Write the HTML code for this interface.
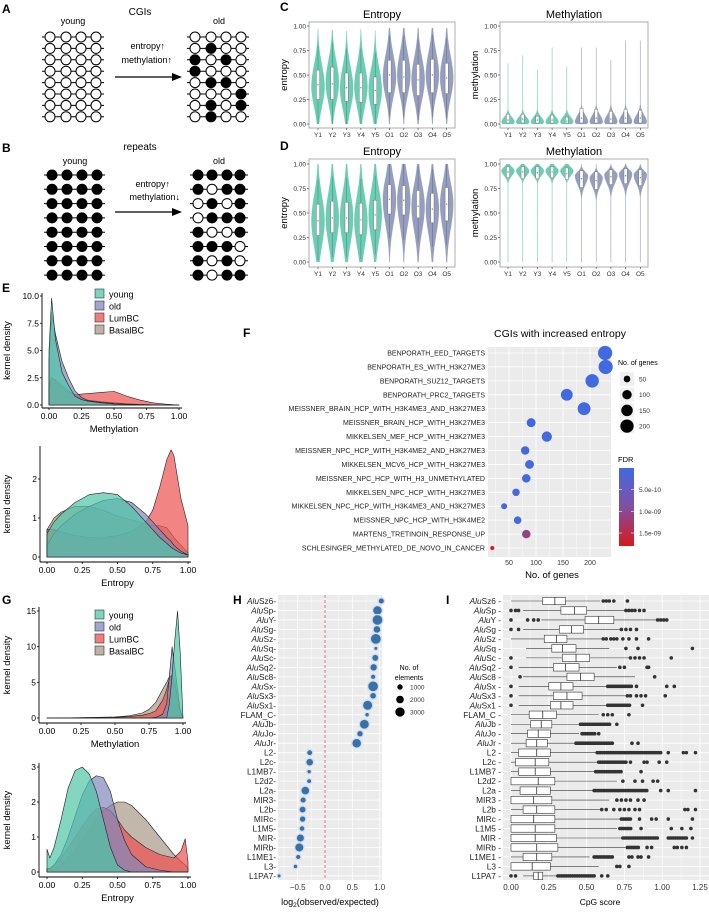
<!DOCTYPE html>
<html><head><meta charset="utf-8"><style>
html,body{margin:0;padding:0;background:#fff}
svg{display:block;font-family:"Liberation Sans",Arial,sans-serif}
</style></head><body>
<svg id="fig" width="709" height="912" viewBox="0 0 709 912" xmlns="http://www.w3.org/2000/svg"></svg>
<script>
// ---------------- DATA ----------------
const violinCats = ["Y1","Y2","Y3","Y4","Y5","O1","O2","O3","O4","O5"];
// C entropy
const cEntMode = [0.38,0.42,0.36,0.38,0.35,0.48,0.50,0.45,0.50,0.47];
const cEntMax  = [0.97,0.96,0.95,0.97,0.95,0.98,0.98,0.98,0.98,0.98];
const cEntQ1   = [0.25,0.25,0.23,0.22,0.20,0.32,0.32,0.29,0.32,0.31];
const cEntMed  = [0.40,0.41,0.37,0.37,0.34,0.50,0.48,0.45,0.50,0.47];
const cEntQ3   = [0.55,0.58,0.52,0.52,0.48,0.65,0.65,0.61,0.66,0.62];
// C methylation
const cMetMode = [0.02,0.02,0.02,0.02,0.02,0.02,0.02,0.02,0.02,0.02];
const cMetMax  = [0.62,0.70,0.55,0.78,0.58,0.78,0.78,0.65,0.85,0.85];
const cMetQ1   = [0.01,0.01,0.01,0.01,0.01,0.01,0.01,0.01,0.01,0.01];
const cMetMed  = [0.04,0.05,0.04,0.04,0.03,0.06,0.06,0.05,0.06,0.06];
const cMetQ3   = [0.10,0.10,0.08,0.09,0.07,0.16,0.15,0.13,0.15,0.14];
// D entropy
const dEntMode = [0.42,0.45,0.45,0.42,0.48,0.64,0.63,0.57,0.54,0.59];
const dEntMax  = [1,1,1,1,1,1,1,1,1,1];
const dEntQ1   = [0.27,0.30,0.30,0.28,0.33,0.49,0.48,0.45,0.40,0.42];
const dEntMed  = [0.42,0.45,0.45,0.43,0.48,0.64,0.63,0.57,0.54,0.59];
const dEntQ3   = [0.59,0.62,0.61,0.60,0.63,0.79,0.78,0.73,0.70,0.76];
// D methylation
const dMetMode = [0.93,0.93,0.93,0.93,0.93,0.88,0.86,0.89,0.90,0.89];
const dMetMax  = [1,1,1,1,1,1,1,1,1,1];
const dMetQ1   = [0.86,0.85,0.85,0.86,0.84,0.76,0.74,0.79,0.80,0.78];
const dMetMed  = [0.92,0.92,0.91,0.92,0.90,0.85,0.83,0.87,0.88,0.86];
const dMetQ3   = [0.97,0.97,0.97,0.97,0.96,0.93,0.92,0.94,0.95,0.94];

// density groups
const groups = ["young","old","LumBC","BasalBC"];
const eMetX = [0,0.02,0.05,0.1,0.15,0.2,0.25,0.3,0.4,0.5,0.6,0.7,0.8,0.9,1.0];
const eMetYoung = [5,9.8,6,3,1.8,0.8,0.5,0.35,0.2,0.1,0.05,0.02,0.01,0,0];
const eMetOld   = [4,8.5,6.5,4,2.5,1.3,0.7,0.4,0.25,0.15,0.08,0.04,0.02,0.01,0];
const eMetLum   = [1.5,2.5,2.2,1.6,1.2,0.95,1.0,1.05,1.15,1.25,0.8,0.45,0.2,0.08,0];
const eMetBasal = [2,2.5,2.3,1.8,1.3,0.9,0.6,0.45,0.3,0.2,0.12,0.06,0.03,0.01,0];
const eEntX = [0,0.05,0.1,0.2,0.3,0.4,0.5,0.6,0.7,0.75,0.8,0.85,0.88,0.9,0.95,1];
const eEntYoung = [0.6,0.9,1.1,1.4,1.6,1.65,1.6,1.3,0.9,0.7,0.5,0.35,0.25,0.2,0.1,0.05];
const eEntOld   = [0.3,0.6,0.8,1.1,1.3,1.45,1.5,1.4,1.1,0.9,0.7,0.5,0.4,0.3,0.15,0.05];
const eEntLum   = [0.7,0.7,0.65,0.55,0.5,0.5,0.55,0.65,0.9,1.2,1.8,2.5,2.75,2.6,1.5,0.8];
const eEntBasal = [0.7,1.0,1.15,1.3,1.3,1.2,1.05,0.95,0.85,0.8,0.8,0.75,0.6,0.5,0.3,0.1];
const gMetX = [0,0.25,0.5,0.6,0.7,0.75,0.8,0.85,0.88,0.9,0.92,0.94,0.96,0.98,1];
const gMetYoung = [0,0,0,0,0,0,0,0,0,2,6,11,15,9,0];
const gMetOld   = [0,0,0,0,0,0,0.1,0.5,2,6,10,7,4,1,0];
const gMetLum   = [0,0.05,0.1,0.2,0.4,0.6,1,2.5,4,5.5,6,5,3,1,0];
const gMetBasal = [0,0.05,0.15,0.3,0.7,1.2,2.2,4,5,5.8,6,4.5,2.5,1,0];
const gEntX = [0,0.02,0.05,0.1,0.15,0.2,0.25,0.3,0.35,0.4,0.45,0.5,0.55,0.6,0.7,0.8,0.9,0.95,0.98,1];
const gEntYoung = [0.65,0.4,0.7,1.5,2.4,2.9,3.0,2.8,2.3,1.5,0.7,0.2,0.05,0,0,0,0,0,0,0];
const gEntOld   = [0.1,0.1,0.2,0.5,1.0,1.6,2.2,2.6,2.75,2.7,2.3,1.5,0.9,0.5,0.15,0.05,0,0,0,0];
const gEntLum   = [0.1,0.1,0.2,0.4,0.7,1.0,1.3,1.6,1.8,1.85,1.75,1.5,1.2,1.0,0.7,0.5,0.4,0.6,0.95,0.3];
const gEntBasal = [0.05,0.05,0.1,0.2,0.4,0.6,0.9,1.2,1.5,1.75,1.9,2.0,2.0,1.9,1.5,1.0,0.5,0.3,0.2,0.1];

// F
const fTerms = ["BENPORATH_EED_TARGETS","BENPORATH_ES_WITH_H3K27ME3","BENPORATH_SUZ12_TARGETS","BENPORATH_PRC2_TARGETS","MEISSNER_BRAIN_HCP_WITH_H3K4ME3_AND_H3K27ME3","MEISSNER_BRAIN_HCP_WITH_H3K27ME3","MIKKELSEN_MEF_HCP_WITH_H3K27ME3","MEISSNER_NPC_HCP_WITH_H3K4ME2_AND_H3K27ME3","MIKKELSEN_MCV6_HCP_WITH_H3K27ME3","MEISSNER_NPC_HCP_WITH_H3_UNMETHYLATED","MIKKELSEN_NPC_HCP_WITH_H3K27ME3","MIKKELSEN_NPC_HCP_WITH_H3K4ME3_AND_H3K27ME3","MEISSNER_NPC_HCP_WITH_H3K4ME2","MARTENS_TRETINOIN_RESPONSE_UP","SCHLESINGER_METHYLATED_DE_NOVO_IN_CANCER"];
const fGenes = [228,229,204,157,189,91,120,80,88,82,63,41,66,82,19];
const fFdr = [1e-12,1e-12,1e-12,1e-12,1e-12,2e-11,1e-11,3e-11,3e-11,3e-11,5e-11,8e-11,5e-11,1.1e-9,1.8e-9];
const fXTicks = [50,100,150,200];
const fSizeLegend = [50,100,150,200];
const fFdrTicks = [5e-10,1e-9,1.5e-9];
const fFdrTickLabels = ["5.0e-10","1.0e-09","1.5e-09"];

// H / I
const repNames = ["AluSz6","AluSp","AluY","AluSg","AluSz","AluSq","AluSc","AluSq2","AluSc8","AluSx","AluSx3","AluSx1","FLAM_C","AluJb","AluJo","AluJr","L2","L2c","L1MB7","L2d2","L2a","MIR3","L2b","MIRc","L1M5","MIR","MIRb","L1ME1","L3","L1PA7"];
const hLogOE = [1.03,0.96,0.96,0.95,0.93,0.93,0.92,0.89,0.88,0.88,0.88,0.78,0.77,0.72,0.64,0.58,-0.28,-0.28,-0.29,-0.29,-0.36,-0.40,-0.41,-0.41,-0.42,-0.45,-0.47,-0.49,-0.54,-0.84];
const hCount = [900,2500,3200,1500,3300,300,1200,1400,600,3200,1100,2800,400,2700,1000,2500,800,1500,400,500,2000,900,1200,1000,700,1700,2200,600,400,300];
const hXTicks = [-0.5,0,0.5,1.0];
const hXTickLabels = ["\u22120.5","0.0","0.5","1.0"];
const hSizeLegend = [1000,2000,3000];
const iQ1  = [0.21,0.33,0.49,0.32,0.22,0.27,0.34,0.28,0.37,0.25,0.28,0.26,0.12,0.13,0.11,0.10,0.05,0.03,0.05,0,0.06,0,0.08,0,0,0,0,0.08,0,0.15];
const iMed = [0.29,0.42,0.58,0.40,0.30,0.34,0.43,0.36,0.46,0.33,0.37,0.33,0.21,0.20,0.18,0.17,0.17,0.16,0.16,0.18,0.17,0.15,0.17,0.15,0.16,0.16,0.17,0.17,0.14,0.18];
const iQ3  = [0.36,0.50,0.68,0.48,0.37,0.43,0.52,0.45,0.55,0.41,0.47,0.41,0.30,0.27,0.26,0.24,0.26,0.25,0.26,0.29,0.26,0.27,0.29,0.29,0.29,0.30,0.31,0.27,0.26,0.21];
const iLo  = [0,0.08,0.2,0.08,0,0.1,0.1,0.05,0.08,0.05,0.05,0.05,0,0,0,0,0,0,0,0,0,0,0,0,0,0,0,0,0,0.08];
const iHi  = [0.59,0.75,0.96,0.72,0.60,0.65,0.78,0.70,0.82,0.63,0.76,0.63,0.58,0.45,0.45,0.42,0.56,0.57,0.55,0.70,0.54,0.65,0.60,0.72,0.70,0.73,0.76,0.52,0.58,0.30];
const iOut = [[0.61,0.63,0.65,0.68,0.77],[0,0.03,0.05,0.76,0.78,0.80,0.82,0.85,0.88],[0,0.11,0.15,0.18,0.97,0.99,1.01,1.03],[0,0.05,0.73,0.76,0.79,0.83],[0.61,0.63,0.66,0.68,0.70,0.74,0.78,0.83,0.91],[0.76,0.84,1.2],[0,0.79,0.82,0.85,0.88,1.06],[0,0.72,0.75,0.9,0.91],[0.06,0.95],[0,0.83,1.03,1.08],[0,0.77,0.79,0.83,0.86,0.89,1.02],[0,0.87],[0.61,0.64,0.67,0.78],[0.7],[0.58],[0.8,0.84],[1.04,1.14,1.16,1.22],[0.79,0.88,0.9,0.98,1.03],[0.86],[0.74,0.82,0.87,0.94,0.97],[0.99,1.04,1.22],[0.7,0.73,0.76,0.79,0.84,0.88],[0.6,0.63,0.68,0.72,0.75,0.78,0.82,0.85,1.15,1.17,1.22],[0.85,0.93,0.96,1.04,1.2],[0.86,1.06,1.13,1.19],[1.2],[0.9,0.93,1.08,1.1,1.13,1.16],[0.78,0.8,0.84,0.86,0.91],[0.7,0.72,0.78],[0,0.03,0.6,0.64]];
const iOutRanges = [[],[],[],[],[],[],[],[],[],[[0.64,0.80]],[],[[0.64,0.79]],[],[[0.46,0.66]],[[0.47,0.56]],[[0.43,0.67]],[[0.57,1.0]],[[0.58,0.76]],[[0.56,0.73]],[],[[0.55,0.90]],[],[],[[0.73,0.80]],[[0.72,0.80]],[[0.74,0.97],[1.04,1.16]],[[0.77,0.85]],[[0.55,0.68]],[],[[0.31,0.56]]];
const iXTicks = [0,0.25,0.5,0.75,1.0,1.25];
const iXTickLabels = ["0.00","0.25","0.50","0.75","1.00","1.25"];

// ---------------- HELPERS ----------------
const NS = "http://www.w3.org/2000/svg";
const svg = document.getElementById("fig");
function mk(tag, attrs, parent){ const e=document.createElementNS(NS,tag); for(const k in attrs) e.setAttribute(k,attrs[k]); (parent||svg).appendChild(e); return e; }
function txt(x,y,s,size,anchor,parent,extra){ const t=mk("text",Object.assign({x:x,y:y,"font-size":size,"text-anchor":anchor||"start",fill:"#000"},extra||{}),parent); t.textContent=s; return t; }
const teal="#5ec7ab", slate="#8a94b6";

// ---------------- PANEL A & B ----------------
function label(s,x,y,name){ const t=txt(x,y,s,12,"start",svg,{"font-weight":"bold"});   }
label("A",2,13,"panel-a-label");
label("B",2,152,"panel-b-label");
label("C",280,11,"panel-c-label");
label("D",280,150,"panel-d-label");
label("E",2,292,"panel-e-label");
label("F",243,337,"panel-f-label");
label("G",2,604,"panel-g-label");
label("H",233,604,"panel-h-label");
label("I",446,604,"panel-i-label");

const cgiOld = ["0000","0100","1010","1000","0110","0001","0101","0100"];
const repOld = ["1111","1011","0101","0111","1001","1110","1010","1011"];
function schematic(gx, rows0, dy, colsX, pattern, gname){
  const g=mk("g",{});  
  for(let r=0;r<8;r++){
    const y=rows0+r*dy;
    mk("line",{x1:colsX[0]-8,x2:colsX[3]+8,y1:y,y2:y,stroke:"#000","stroke-width":1},g);
    for(let c=0;c<4;c++){
      const f=pattern[r][c]==="1";
      mk("circle",{cx:colsX[c],cy:y,r:5,fill:f?"#000":"#fff",stroke:"#000","stroke-width":1},g);
    }
  }
}
const youngCgi=[]; for(let r=0;r<8;r++) youngCgi.push("0000");
const youngRep=[]; for(let r=0;r<8;r++) youngRep.push("1111");
let t;
t=txt(140,15,"CGIs",10,"middle");  
t=txt(73,24,"young",9,"middle");  
t=txt(219,24,"old",9,"middle");  
schematic(0,37,11.4,[50,66,81,96],youngCgi,"cgi-young-schematic");
schematic(0,37,11.4,[195,211,226,241],cgiOld,"cgi-old-schematic");
t=txt(165,49,"entropy\u2191",9,"end");  
t=txt(172,63,"methylation\u2191",9,"end");  
function arrow(y,name){ const g=mk("g",{});  
  mk("line",{x1:115,x2:174,y1:y,y2:y,stroke:"#000","stroke-width":1.2},g);
  mk("polygon",{points:`182,${y} 172,${y-4} 172,${y+4}`,fill:"#000"},g); }
arrow(77,"arrow-a");
t=txt(140,150,"repeats",10,"middle");  
t=txt(75,164,"young",9,"middle");  
t=txt(219,164,"old",9,"middle");  
schematic(0,175,14.3,[52,67,82,97],youngRep,"repeat-young-schematic");
schematic(0,175,14.3,[198,212,227,240],repOld,"repeat-old-schematic");
t=txt(170,187,"entropy\u2191",9,"end");  
t=txt(180,200,"methylation\u2193",9,"end");  
arrow(212,"arrow-b");

// ---------------- VIOLINS ----------------
function violinPanel(o){
  const g=mk("g",{});  
  const yS=v=>o.y0+(o.y1-o.y0)*v;
  const xS=i=>o.cx0+i*o.step;
  mk("rect",{x:o.left,y:o.top,width:o.right-o.left,height:o.bottom-o.top,fill:"#fff",stroke:"#999","stroke-width":0.8},g);
  let tt=txt((o.left+o.right)/2,o.top-4,o.title,11,"middle",g);  
  tt=txt(o.left-22,(o.top+o.bottom)/2,o.ytitle,9.5,"middle",g,{transform:`rotate(-90 ${o.left-22} ${(o.top+o.bottom)/2})`});  
  [0,0.25,0.5,0.75,1].forEach((v,k)=>{
    mk("line",{x1:o.left-2,x2:o.left,y1:yS(v),y2:yS(v),stroke:"#333","stroke-width":0.6},g);
    const l=txt(o.left-3,yS(v)+2.5,["0.00","0.25","0.50","0.75","1.00"][k],6.5,"end",g,{fill:"#333"});  
  });
  violinCats.forEach((c,i)=>{
    const cx=xS(i), col=i<5?teal:slate;
    mk("line",{x1:cx,x2:cx,y1:o.bottom,y2:o.bottom+2,stroke:"#333","stroke-width":0.6},g);
    const l=txt(cx,o.bottom+9,c,6.5,"middle",g,{fill:"#333"});  
    const mode=o.mode[i], mx=o.max[i];
    const sdLo=i<5?o.sdLoY:o.sdLoO, sdHi=i<5?o.sdHiY:o.sdHiO;
    const L=[],R=[];
    for(let v=0; v<=mx+1e-9; v+=0.005){
      const sd=v<mode?sdLo:sdHi;
      const d=Math.exp(-0.5*Math.pow((v-mode)/sd,2));
      const w=Math.max(0.2,o.hw*d);
      L.push([cx-w,yS(v)]); R.unshift([cx+w,yS(v)]);
    }
    const pts=L.concat(R).map(p=>p[0].toFixed(2)+","+p[1].toFixed(2)).join(" ");
    const vp=mk("polygon",{points:pts,fill:col,stroke:col,"stroke-width":0.2,opacity:0.9},g);
     
    if(o.whisker) mk("line",{x1:cx,x2:cx,y1:yS(Math.max(0,o.q1[i]-0.25)),y2:yS(Math.min(mx,o.q3[i]+0.25)),stroke:i<5?"#2f8d78":"#5d6688","stroke-width":0.5},g);
    const bx=mk("rect",{x:cx-1.6,y:yS(o.q3[i]),width:3.2,height:Math.max(0.5,yS(o.q1[i])-yS(o.q3[i])),fill:"#fff",stroke:"#666","stroke-width":0.4},g);
     
    mk("circle",{cx:cx,cy:yS(o.med[i]),r:0.7,fill:"#888"},g);
  });
}
violinPanel({name:"c-entropy-violins",title:"Entropy",ytitle:"entropy",left:309,right:455,top:22,bottom:128,y0:124,y1:26,cx0:318,step:14.3,hw:6.6,whisker:true,mode:cEntMode,max:cEntMax,q1:cEntQ1,med:cEntMed,q3:cEntQ3,sdLoY:0.2,sdHiY:0.22,sdLoO:0.2,sdHiO:0.22});
violinPanel({name:"c-methylation-violins",title:"Methylation",ytitle:"methylation",left:500,right:648,top:22,bottom:128,y0:124,y1:26,cx0:508,step:14.7,hw:6.5,whisker:false,mode:cMetMode,max:cMetMax,q1:cMetQ1,med:cMetMed,q3:cMetQ3,sdLoY:0.03,sdHiY:0.05,sdLoO:0.03,sdHiO:0.07});
violinPanel({name:"d-entropy-violins",title:"Entropy",ytitle:"entropy",left:309,right:455,top:159,bottom:267,y0:262,y1:164,cx0:318,step:14.3,hw:6.6,whisker:true,mode:dEntMode,max:dEntMax,q1:dEntQ1,med:dEntMed,q3:dEntQ3,sdLoY:0.25,sdHiY:0.25,sdLoO:0.25,sdHiO:0.22});
violinPanel({name:"d-methylation-violins",title:"Methylation",ytitle:"methylation",left:500,right:648,top:159,bottom:267,y0:262,y1:164,cx0:508,step:14.7,hw:6.5,whisker:false,mode:dMetMode,max:dMetMax,q1:dMetQ1,med:dMetMed,q3:dMetQ3,sdLoY:0.05,sdHiY:0.04,sdLoO:0.09,sdHiO:0.04});

// ---------------- DENSITY PLOTS ----------------
const dCols={young:"#4fc6a6",old:"#8088bb",LumBC:"#ec5050",BasalBC:"#a89888"};
function densityPanel(o){
  const g=mk("g",{});  
  const xS=v=>o.x0+(o.x1-o.x0)*v, yS=v=>o.yb+(o.yt-o.yb)*v/o.yv;
  const series={young:o.young,old:o.old,LumBC:o.lum,BasalBC:o.basal};
  ["BasalBC","LumBC","old","young"].forEach(k=>{
    const ys=series[k];
    let d=`M${xS(o.xs[0])},${yS(0)}`;
    o.xs.forEach((x,i)=>{ d+=` L${xS(x).toFixed(2)},${yS(ys[i]).toFixed(2)}`; });
    d+=` L${xS(o.xs[o.xs.length-1])},${yS(0)} Z`;
    const p=mk("path",{d:d,fill:dCols[k],"fill-opacity":0.7,stroke:"#222","stroke-width":0.6,"stroke-linejoin":"round"},g);
     
  });
  mk("line",{x1:o.ax,x2:o.ax,y1:o.axTop,y2:o.axY,stroke:"#000","stroke-width":0.9},g);
  mk("line",{x1:o.ax,x2:xS(1)+3,y1:o.axY,y2:o.axY,stroke:"#000","stroke-width":0.9},g);
  o.yticks.forEach((v,k)=>{
    mk("line",{x1:o.ax-2,x2:o.ax,y1:yS(v),y2:yS(v),stroke:"#000","stroke-width":0.8},g);
    const l=txt(o.ax-3,yS(v)+3,o.ylabels[k],8.5,"end",g);  
  });
  [0,0.25,0.5,0.75,1].forEach((v,k)=>{
    mk("line",{x1:xS(v),x2:xS(v),y1:o.axY,y2:o.axY+2,stroke:"#000","stroke-width":0.8},g);
    const l=txt(xS(v),o.axY+11,["0.00","0.25","0.50","0.75","1.00"][k],8.5,"middle",g);  
  });
  let tt=txt((xS(0)+xS(1))/2,o.axY+24,o.xtitle,9.5,"middle",g);  
  const my=(o.axTop+o.axY)/2;
  tt=txt(10,my,"kernel density",9.5,"middle",g,{transform:`rotate(-90 10 ${my})`});  
  if(o.legendY){
    groups.forEach((k,i)=>{
      const y=o.legendY+i*12;
      const r=mk("rect",{x:95,y:y-5,width:9,height:9,fill:dCols[k],"fill-opacity":0.75,stroke:"#333","stroke-width":0.6},g);
       
      const l=txt(109,y+3.5,k,9,"start",g);  
    });
  }
}
densityPanel({name:"e-methylation-density",xs:eMetX,young:eMetYoung,old:eMetOld,lum:eMetLum,basal:eMetBasal,x0:49,x1:179,yb:405,yt:296,yv:10,ax:42,axTop:293,axY:408,yticks:[0,2.5,5,7.5,10],ylabels:["0.0","2.5","5.0","7.5","10.0"],xtitle:"Methylation",legendY:294});
densityPanel({name:"e-entropy-density",xs:eEntX,young:eEntYoung,old:eEntOld,lum:eEntLum,basal:eEntBasal,x0:47,x1:188,yb:557,yt:479,yv:2,ax:40,axTop:446,axY:562,yticks:[0,1,2],ylabels:["0","1","2"],xtitle:"Entropy"});
densityPanel({name:"g-methylation-density",xs:gMetX,young:gMetYoung,old:gMetOld,lum:gMetLum,basal:gMetBasal,x0:47,x1:183,yb:718,yt:611,yv:15,ax:39,axTop:607,axY:723,yticks:[0,5,10,15],ylabels:["0","5","10","15"],xtitle:"Methylation",legendY:615});
densityPanel({name:"g-entropy-density",xs:gEntX,young:gEntYoung,old:gEntOld,lum:gEntLum,basal:gEntBasal,x0:47,x1:188,yb:872,yt:767,yv:3,ax:39,axTop:763,axY:877,yticks:[0,1,2,3],ylabels:["0","1","2","3"],xtitle:"Entropy"});

// ---------------- PANEL F ----------------
(function(){
  const g=mk("g",{});  
  const L=488,R=611,T=347,B=557;
  const xS=v=>509+(v-50)*(81/150), yS=i=>353+i*13.93;
  const fdrColor=f=>{ const t=Math.min(1,f/1.8e-9); const c0=[65,105,225],c1=[215,25,28]; const m=[128,80,160];
    let c; if(t<0.5){const u=t/0.5; c=c0.map((a,k)=>Math.round(a+(m[k]-a)*u));} else {const u=(t-0.5)/0.5; c=m.map((a,k)=>Math.round(a+(c1[k]-a)*u));}
    return `rgb(${c[0]},${c[1]},${c[2]})`; };
  let tt=txt(560,337,"CGIs with increased entropy",10.5,"middle",g);  
  mk("rect",{x:L,y:T,width:R-L,height:B-T,fill:"#ebebeb"},g);
  fXTicks.forEach(v=>{ mk("line",{x1:xS(v),x2:xS(v),y1:T,y2:B,stroke:"#fff","stroke-width":0.8},g);
    mk("line",{x1:xS(v-25),x2:xS(v-25),y1:T,y2:B,stroke:"#fff","stroke-width":0.4},g);
    const l=txt(xS(v),565,String(v),7,"middle",g,{fill:"#333"});   });
  fTerms.forEach((s,i)=>{ mk("line",{x1:L,x2:R,y1:yS(i),y2:yS(i),stroke:"#fff","stroke-width":0.8},g);
    const l=txt(L-3,yS(i)+2.5,s,7,"end",g,{fill:"#222"});   });
  fTerms.forEach((s,i)=>{ const c=mk("circle",{cx:xS(fGenes[i]),cy:yS(i),r:Math.sqrt(fGenes[i])*0.47,fill:fdrColor(fFdr[i])},g);
      });
  tt=txt(552,578,"No. of genes",9.5,"middle",g);  
  tt=txt(618,365,"No. of genes",7,"start",g);  
  fSizeLegend.forEach((v,k)=>{ const y=379+k*15.7;
    mk("rect",{x:620,y:y-7,width:14,height:14,fill:"#f0f0f0"},g);
    const c=mk("circle",{cx:627,cy:y,r:Math.sqrt(v)*0.47,fill:"#000"},g);  
    const l=txt(639,y+2.5,String(v),6.5,"start",g,{fill:"#333"});   });
  tt=txt(618,462,"FDR",7.5,"start",g);  
  const defs=mk("defs",{},g); const lg=mk("linearGradient",{id:"fdrg",x1:0,y1:0,x2:0,y2:1},defs);
  [0,0.25,0.5,0.75,1].forEach(s=>mk("stop",{offset:s,"stop-color":fdrColor(s*1.8e-9)},lg));
  const cb=mk("rect",{x:619,y:468,width:15,height:78,fill:"url(#fdrg)"},g);  
  fFdrTicks.forEach((f,k)=>{ const y=468+78*f/1.8e-9;
    mk("line",{x1:619,x2:622,y1:y,y2:y,stroke:"#fff","stroke-width":0.6},g); mk("line",{x1:631,x2:634,y1:y,y2:y,stroke:"#fff","stroke-width":0.6},g);
    const l=txt(639,y+2.5,fFdrTickLabels[k],6.5,"start",g,{fill:"#333"});   });
})();

// ---------------- PANEL H ----------------
function repLabel(g,x,y,name){
  const t=mk("text",{x:x,y:y,"font-size":8.3,"text-anchor":"end",fill:"#222"},g);
  if(name.startsWith("Alu")){ const a=mk("tspan",{"font-style":"italic"},t); a.textContent="Alu"; const b=mk("tspan",{},t); b.textContent=name.slice(3); }
  else t.textContent=name;
   
}
(function(){
  const g=mk("g",{});  
  const L=278,R=382,T=595,B=880;
  const xS=v=>325+v*(82/1.5)*1, yS=i=>601+i*9.48;
  mk("rect",{x:L,y:T,width:R-L,height:B-T,fill:"#ebebeb"},g);
  hXTicks.forEach((v,k)=>{ mk("line",{x1:xS(v),x2:xS(v),y1:T,y2:B,stroke:"#fff","stroke-width":0.8},g);
    mk("line",{x1:xS(v-0.25),x2:xS(v-0.25),y1:T,y2:B,stroke:"#fff","stroke-width":0.4},g);
    const l=txt(xS(v),890,hXTickLabels[k],8,"middle",g,{fill:"#333"});   });
  repNames.forEach((n,i)=>{ mk("line",{x1:L,x2:R,y1:yS(i),y2:yS(i),stroke:"#fff","stroke-width":0.8},g); repLabel(g,L-2,yS(i)+3,n+"-"); });
  const dl=mk("line",{x1:xS(0),x2:xS(0),y1:T,y2:B,stroke:"#d9534f","stroke-width":0.8,"stroke-dasharray":"3,2"},g);
   
  repNames.forEach((n,i)=>{ const r=Math.sqrt(hCount[i])*0.085;
    mk("circle",{cx:xS(hLogOE[i]),cy:yS(i),r:r+1.3,fill:"#cfe0ee"},g);
    const c=mk("circle",{cx:xS(hLogOE[i]),cy:yS(i),r:r,fill:"#3a70a8"},g);   });
  const tt=mk("text",{x:330,y:905,"font-size":9,"text-anchor":"middle"},g);
  tt.innerHTML='log<tspan font-size="6.5" dy="2">2</tspan><tspan dy="-2">(observed/expected)</tspan>';
   
  let l=txt(409,670,"No. of",7,"middle",g);  
  l=txt(409,680,"elements",7,"middle",g);  
  hSizeLegend.forEach((v,k)=>{ const y=687+k*12.5;
    const c=mk("circle",{cx:400,cy:y,r:Math.sqrt(v)*0.085,fill:"#000"},g);  
    const t2=txt(410,y+2.3,String(v),6.5,"start",g,{fill:"#333"});   });
})();

// ---------------- PANEL I ----------------
(function(){
  const g=mk("g",{});  
  const L=503,R=709,T=595,B=880;
  const xS=v=>511+v*151.2, yS=i=>601+i*9.48;
  mk("rect",{x:L,y:T,width:R-L,height:B-T,fill:"#ebebeb"},g);
  iXTicks.forEach((v,k)=>{ mk("line",{x1:xS(v),x2:xS(v),y1:T,y2:B,stroke:"#fff","stroke-width":0.8},g);
    if(k>0) mk("line",{x1:xS(v-0.125),x2:xS(v-0.125),y1:T,y2:B,stroke:"#fff","stroke-width":0.4},g);
    const l=txt(xS(v),890,iXTickLabels[k],8,"middle",g,{fill:"#333"});   });
  repNames.forEach((n,i)=>{ mk("line",{x1:L,x2:R,y1:yS(i),y2:yS(i),stroke:"#fff","stroke-width":0.8},g); repLabel(g,L-2,yS(i)+3,n+" -"); });
  repNames.forEach((n,i)=>{
    const y=yS(i);
    mk("line",{x1:xS(iLo[i]),x2:xS(iQ1[i]),y1:y,y2:y,stroke:"#333","stroke-width":0.6},g);
    mk("line",{x1:xS(iQ3[i]),x2:xS(iHi[i]),y1:y,y2:y,stroke:"#333","stroke-width":0.6},g);
    const b=mk("rect",{x:xS(iQ1[i]),y:y-3.7,width:Math.max(1,xS(iQ3[i])-xS(iQ1[i])),height:7.4,fill:"#fff",stroke:"#333","stroke-width":0.6},g);
     
    mk("line",{x1:xS(iMed[i]),x2:xS(iMed[i]),y1:y-3.7,y2:y+3.7,stroke:"#333","stroke-width":0.8},g);
    iOut[i].forEach(v=>{ const c=mk("circle",{cx:xS(v),cy:y,r:1.8,fill:"#333"},g);   });
    iOutRanges[i].forEach(rg=>{ for(let v=rg[0]; v<=rg[1]+1e-9; v+=0.012){ const c=mk("circle",{cx:xS(v),cy:y,r:1.8,fill:"#333"},g);   } });
  });
  const tt=txt(600,905,"CpG score",8.5,"middle",g);  
})();
</script>
</body></html>
